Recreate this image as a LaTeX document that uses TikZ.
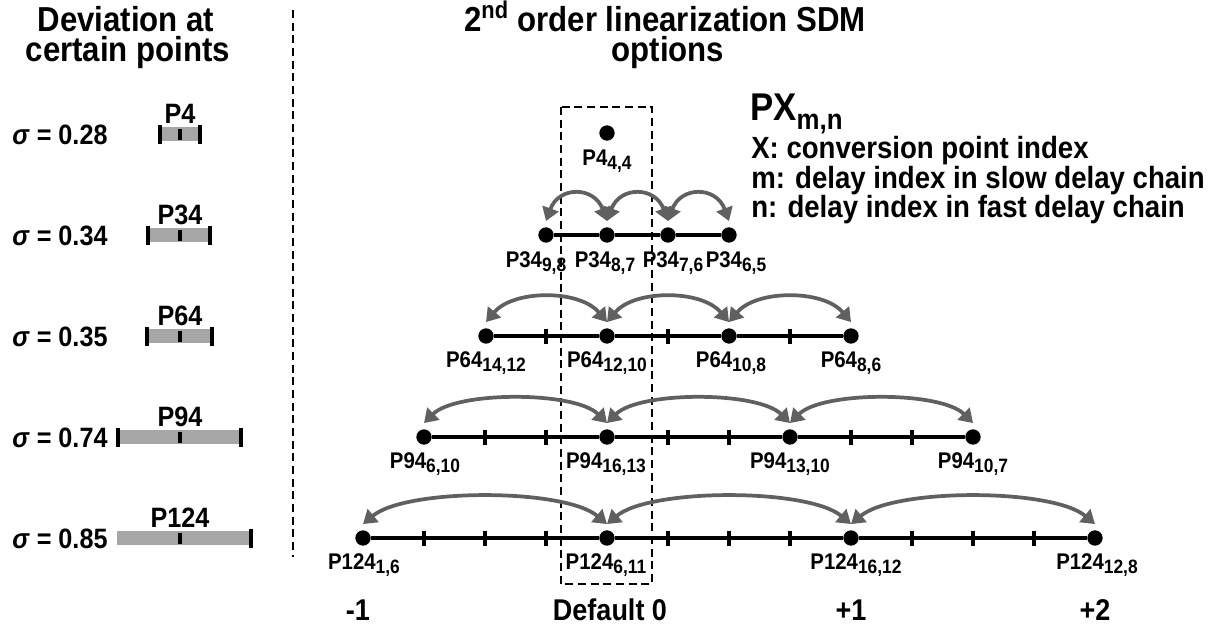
\documentclass[tikz,border=0pt]{standalone}
\usepackage{fontspec}
\setmainfont{Liberation Sans}[FakeStretch=0.9]
\usetikzlibrary{arrows.meta}

\definecolor{arcgray}{RGB}{96,96,96}
\definecolor{bargray}{RGB}{166,166,166}

% point name with its (m,n) delay indices set as a lowered index
\newcommand{\ptlab}[2]{#1\raisebox{-3pt}{\fontsize{14.5}{14.5}\selectfont #2}}

\tikzset{
  dot/.style={circle,fill=black,inner sep=0pt,minimum size=11.5pt},
  axisline/.style={line width=2.6pt,black},
  tickmark/.style={line width=2.6pt,black},
  hop/.style={draw=arcgray,line width=2.8pt,
    {Triangle[length=10pt,width=12.5pt]}-{Triangle[length=10pt,width=12.5pt]}},
  lbl/.style={anchor=base,inner sep=0pt,font=\bfseries\fontsize{17}{17}\selectfont},
  barlbl/.style={anchor=base,inner sep=0pt,font=\bfseries\fontsize{21}{21}\selectfont},
  sig/.style={anchor=base west,inner sep=0pt,font=\bfseries\fontsize{21}{21}\selectfont},
  head/.style={anchor=base,inner sep=0pt,text height=17pt,text depth=4pt,
    font=\bfseries\fontsize{26}{26}\selectfont},
  axislbl/.style={anchor=base,inner sep=0pt,font=\bfseries\fontsize{22.5}{22.5}\selectfont},
  legend/.style={anchor=base west,inner sep=0pt,font=\bfseries\fontsize{23}{23}\selectfont},
  divider/.style={line width=1.5pt,dash pattern=on 6pt off 3.5pt},
}

\begin{document}
\begin{tikzpicture}[x=0.75pt,y=0.75pt]
\useasboundingbox (0,0) rectangle (1222,-626);

% ---------- headings ----------
\node[head] (hl1) at (126,-31) {Deviation at};
\node[head] (hl2) at (128,-61) {certain points};
\node[head] (hr1) at (665,-31) {2\textsuperscript{nd} order linearization SDM};
\node[head] (hr2) at (668,-61) {options};

% separator between the two halves
\draw[divider] (293,-10) -- (293,-557);

% ---------- left column: deviation bars ----------
\foreach \yy/\sv/\xa/\xb/\nm/\lt in {134/0.28/160/200/P4/1, 235/0.34/148/210/P34/1,
    336/0.35/147/212/P64/1, 437/0.74/118/241/P94/1, 538/0.85/117/251/P124/0}{
  \node[sig] (s\nm) at (12,-\yy-10) {\textit{σ} = \sv};
  \fill[bargray] (\xa,-\yy+7) rectangle (\xb,-\yy-7);
  \ifnum\lt=1 \draw[tickmark,line width=2.8pt] (\xa,-\yy+9.5) -- (\xa,-\yy-9.5); \fi
  \draw[tickmark,line width=2.8pt] (\xb,-\yy+9.5) -- (\xb,-\yy-9.5);
  \draw[tickmark] (180,-\yy+5.5) -- (180,-\yy-5.5);
  \node[barlbl] (b\nm) at (180,-\yy+11) {\nm};
}

% ---------- default window ----------
\draw[divider] (561,-107) rectangle (652,-584);

% ---------- P4 ----------
\node[dot] (a1) at (607,-133) {};
\node[lbl] (a1l) at (607,-165) {\ptlab{P4}{4,4}};

% ---------- P34 ----------
\node[dot] (b1) at (546,-235) {};
\node[dot] (b2) at (607,-235) {};
\node[dot] (b3) at (668,-235) {};
\node[dot] (b4) at (729,-235) {};
\draw[axisline] (b1) -- (b2) -- (b3) -- (b4);
\node[lbl] (b1l) at (536,-267) {\ptlab{P34}{9,8}};
\node[lbl] (b2l) at (605,-267) {\ptlab{P34}{8,7}};
\node[lbl] (b3l) at (673,-267) {\ptlab{P34}{7,6}};
\node[lbl] (b4l) at (736,-267) {\ptlab{P34}{6,5}};
\draw[hop] ([yshift=4.5pt]b1.north) to[out=70,in=110,distance=28pt] ([yshift=4.5pt]b2.north);
\draw[hop] ([yshift=4.5pt]b2.north) to[out=70,in=110,distance=28pt] ([yshift=4.5pt]b3.north);
\draw[hop] ([yshift=4.5pt]b3.north) to[out=70,in=110,distance=28pt] ([yshift=4.5pt]b4.north);

% ---------- P64 ----------
\node[dot] (c1) at (486,-336) {};
\node[dot] (c2) at (607,-336) {};
\node[dot] (c3) at (729,-336) {};
\node[dot] (c4) at (851,-336) {};
\draw[axisline] (c1) -- (c2) -- (c3) -- (c4);
\foreach \tx in {546,668,790} \draw[tickmark] (\tx,-336+7.5) -- (\tx,-336-7.5);
\node[lbl] (c1l) at (486,-367) {\ptlab{P64}{14,12}};
\node[lbl] (c2l) at (607,-367) {\ptlab{P64}{12,10}};
\node[lbl] (c3l) at (731,-367) {\ptlab{P64}{10,8}};
\node[lbl] (c4l) at (851,-367) {\ptlab{P64}{8,6}};
\draw[hop] ([yshift=4.5pt]c1.north) to[out=50,in=130,distance=32pt] ([yshift=4.5pt]c2.north);
\draw[hop] ([yshift=4.5pt]c2.north) to[out=50,in=130,distance=32pt] ([yshift=4.5pt]c3.north);
\draw[hop] ([yshift=4.5pt]c3.north) to[out=50,in=130,distance=32pt] ([yshift=4.5pt]c4.north);

% ---------- P94 ----------
\node[dot] (d1) at (424,-437) {};
\node[dot] (d2) at (607,-437) {};
\node[dot] (d3) at (790,-437) {};
\node[dot] (d4) at (973,-437) {};
\draw[axisline] (d1) -- (d2) -- (d3) -- (d4);
\foreach \tx in {485,546,668,729,851,912} \draw[tickmark] (\tx,-437+7.5) -- (\tx,-437-7.5);
\node[lbl] (d1l) at (425,-468) {\ptlab{P94}{6,10}};
\node[lbl] (d2l) at (606,-468) {\ptlab{P94}{16,13}};
\node[lbl] (d3l) at (790,-468) {\ptlab{P94}{13,10}};
\node[lbl] (d4l) at (973,-468) {\ptlab{P94}{10,7}};
\draw[hop] ([yshift=4.5pt]d1.north) to[out=45,in=135,distance=34pt] ([yshift=4.5pt]d2.north);
\draw[hop] ([yshift=4.5pt]d2.north) to[out=45,in=135,distance=34pt] ([yshift=4.5pt]d3.north);
\draw[hop] ([yshift=4.5pt]d3.north) to[out=45,in=135,distance=34pt] ([yshift=4.5pt]d4.north);

% ---------- P124 ----------
\node[dot] (e1) at (363,-538) {};
\node[dot] (e2) at (607,-538) {};
\node[dot] (e3) at (851,-538) {};
\node[dot] (e4) at (1095,-538) {};
\draw[axisline] (e1) -- (e2) -- (e3) -- (e4);
\foreach \tx in {424,485,546,668,729,790,912,973,1034} \draw[tickmark] (\tx,-538+7.5) -- (\tx,-538-7.5);
\node[lbl] (e1l) at (364,-569) {\ptlab{P124}{1,6}};
\node[lbl] (e2l) at (606,-569) {\ptlab{P124}{6,11}};
\node[lbl] (e3l) at (856,-569) {\ptlab{P124}{16,12}};
\node[lbl] (e4l) at (1097,-569) {\ptlab{P124}{12,8}};
\draw[hop] ([yshift=4.5pt]e1.north) to[out=40,in=140,distance=42pt] ([yshift=4.5pt]e2.north);
\draw[hop] ([yshift=4.5pt]e2.north) to[out=40,in=140,distance=42pt] ([yshift=4.5pt]e3.north);
\draw[hop] ([yshift=4.5pt]e3.north) to[out=40,in=140,distance=42pt] ([yshift=4.5pt]e4.north);

% ---------- axis values ----------
\node[axislbl] (v1) at (358,-620) {-1};
\node[axislbl] (v2) at (610,-620) {Default 0};
\node[axislbl] (v3) at (851,-620) {+1};
\node[axislbl] (v4) at (1095,-620) {+2};

% ---------- legend ----------
\node[anchor=base west,inner sep=0pt,font=\bfseries\fontsize{29}{29}\selectfont] (lg0) at (750,-120)
  {PX\raisebox{-7pt}{\fontsize{21.5}{21.5}\selectfont m,n}};
\node[legend] (lg1) at (751,-158) {X: conversion point index};
\node[legend] (lg2) at (751,-188) {m: delay index in slow delay chain};
\node[legend] (lg3) at (751,-217) {n: delay index in fast delay chain};
\end{tikzpicture}
\end{document}
